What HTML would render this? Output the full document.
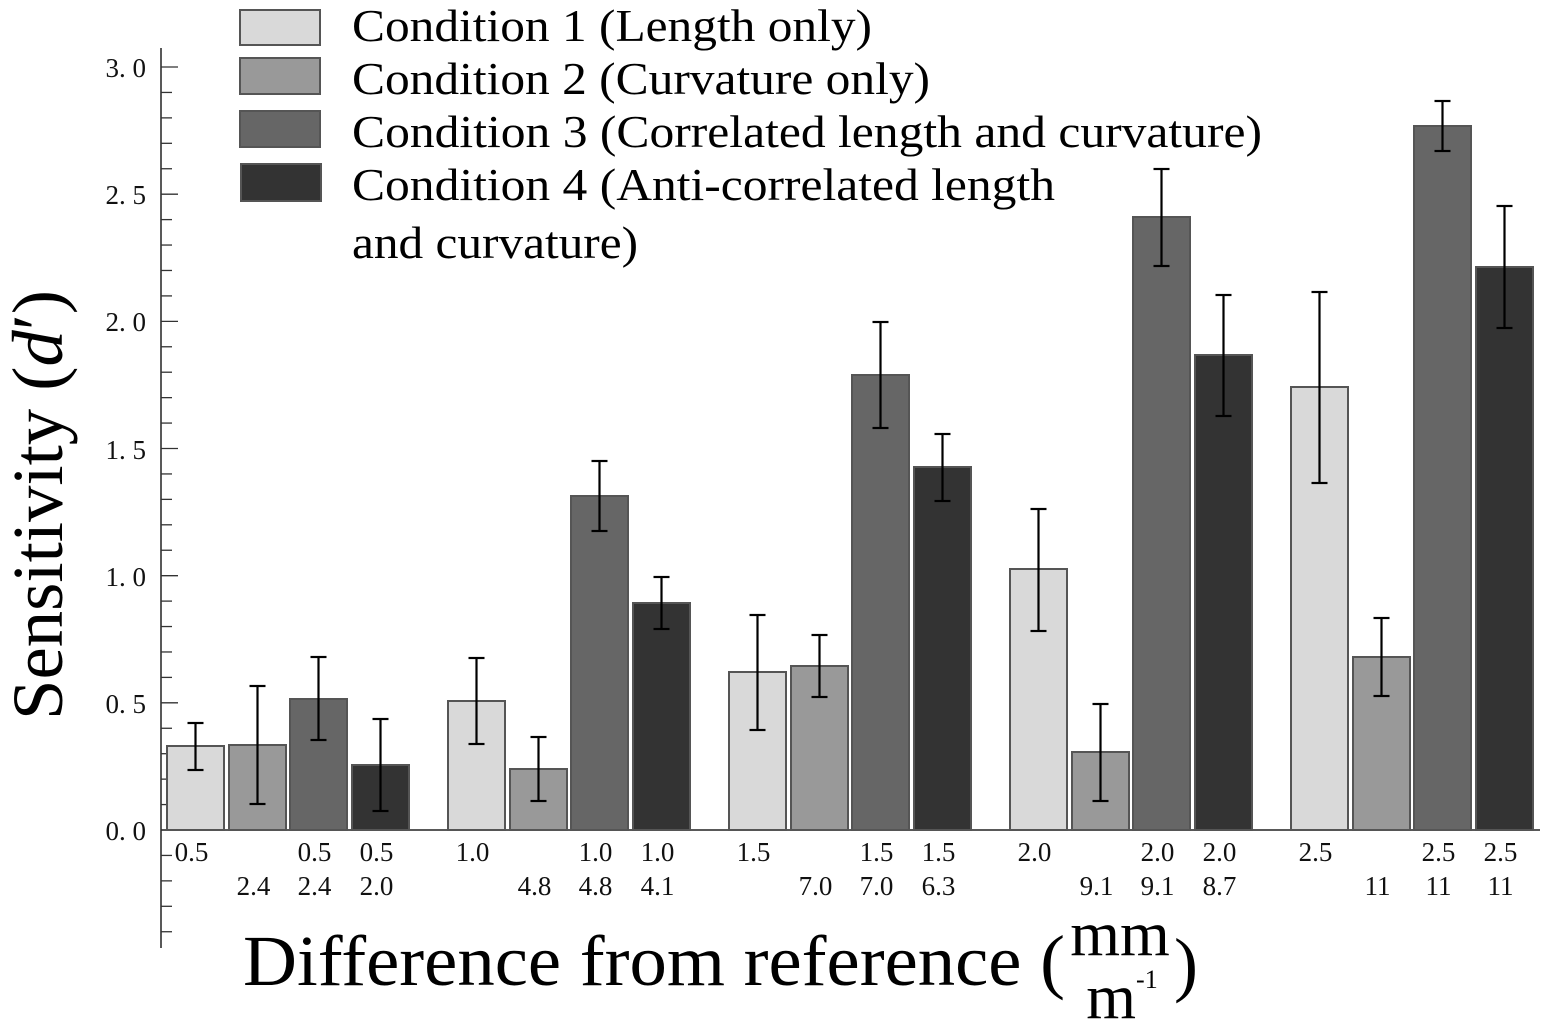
<!DOCTYPE html>
<html><head><meta charset="utf-8"><style>
html,body{margin:0;padding:0;background:#fff;}
svg{display:block;font-family:"Liberation Serif",serif;}
</style></head><body>
<svg width="1542" height="1029" viewBox="0 0 1542 1029" xmlns="http://www.w3.org/2000/svg">
<g stroke="#222" stroke-width="1.5">
<line x1="161" y1="48" x2="161" y2="948"/>
<line x1="161" y1="830" x2="1540" y2="830"/>
</g>
<g stroke="#333" stroke-width="1.3" id="ticks"></g>
<g font-size="27" text-anchor="end" fill="#111">
<text x="146" y="77">3. 0</text>
<text x="146" y="204">2. 5</text>
<text x="146" y="331">2. 0</text>
<text x="146" y="459">1. 5</text>
<text x="146" y="586">1. 0</text>
<text x="146" y="713">0. 5</text>
<text x="146" y="840">0. 0</text>
</g>
<g id="bars" stroke="#555" stroke-width="2"></g>
<g id="errs" stroke="#000" stroke-width="2.2" fill="none"></g>
<g id="labs" font-size="27" text-anchor="middle" fill="#111"></g>
<!-- legend -->
<g stroke="#555" stroke-width="2">
<rect x="240" y="10" width="80" height="35" fill="#d9d9d9"/>
<rect x="240" y="58" width="80" height="36" fill="#999"/>
<rect x="240" y="111" width="80" height="36" fill="#666"/>
<rect x="241" y="164" width="80" height="37" fill="#333"/>
</g>
<g font-size="46" fill="#000" lengthAdjust="spacingAndGlyphs">
<text x="352" y="41" textLength="520" lengthAdjust="spacingAndGlyphs">Condition 1 (Length only)</text>
<text x="352" y="94" textLength="578" lengthAdjust="spacingAndGlyphs">Condition 2 (Curvature only)</text>
<text x="352" y="147" textLength="910" lengthAdjust="spacingAndGlyphs">Condition 3 (Correlated length and curvature)</text>
<text x="352" y="200" textLength="703" lengthAdjust="spacingAndGlyphs">Condition 4 (Anti-correlated length</text>
<text x="352" y="258" textLength="286" lengthAdjust="spacingAndGlyphs">and curvature)</text>
</g>
<text transform="translate(62,505) rotate(-90)" font-size="72" text-anchor="middle" textLength="430" lengthAdjust="spacingAndGlyphs">Sensitivity (<tspan font-style="italic">d</tspan>′)</text>
<text x="243" y="985" font-size="72" textLength="822" lengthAdjust="spacingAndGlyphs">Difference from reference (</text>
<text x="1120" y="955" font-size="64" text-anchor="middle">mm</text>
<text x="1122" y="1018" font-size="64" text-anchor="middle">m<tspan font-size="26" dy="-30">-1</tspan></text>
<text x="1174" y="988" font-size="72">)</text>
<script>
(function(){
var NS="http://www.w3.org/2000/svg";
function el(p,t,a,txt){var e=document.createElementNS(NS,t);for(var k in a)e.setAttribute(k,a[k]);if(txt)e.textContent=txt;document.getElementById(p).appendChild(e);}
for(var i=-4;i<=30;i++){var y=830-i*25.433;var maj=(i%5==0);el("ticks","line",{x1:161,y1:y,x2:maj?178:172,y2:y});}
var cols=["#d9d9d9","#999","#666","#333"];
var gx=[167,448,729,1010,1291];
var off=[0,62,123,185];
var data=[
[[746,723,770],[745,686,804],[699,657,740],[765,719,811]],
[[701,658,744],[769,737,801],[496,461,531],[603,577,629]],
[[672,615,730],[666,635,697],[375,322,428],[467,434,501]],
[[569,509,631],[752,704,801],[217,169,266],[355,295,416]],
[[387,292,483],[657,618,696],[126,101,151],[267,206,328]]];
var l1=["0.5","1.0","1.5","2.0","2.5"],l2=["2.4","4.8","7.0","9.1","11"],l3=["2.0","4.1","6.3","8.7","11"];
for(var g=0;g<5;g++)for(var c=0;c<4;c++){
 var x=gx[g]+off[c],d=data[g][c],cx=x+28.5;
 el("bars","rect",{x:x,y:d[0],width:57,height:830-d[0],fill:cols[c]});
 el("errs","line",{x1:cx,y1:d[1],x2:cx,y2:d[2]});
 el("errs","line",{x1:cx-8,y1:d[1],x2:cx+8,y2:d[1]});
 el("errs","line",{x1:cx-8,y1:d[2],x2:cx+8,y2:d[2]});
 var tx=cx-4;
 if(c==0)el("labs","text",{x:tx,y:861},l1[g]);
 if(c==1)el("labs","text",{x:tx,y:895},l2[g]);
 if(c==2){el("labs","text",{x:tx,y:861},l1[g]);el("labs","text",{x:tx,y:895},l2[g]);}
 if(c==3){el("labs","text",{x:tx,y:861},l1[g]);el("labs","text",{x:tx,y:895},l3[g]);}
}
})();
</script>
</svg>
</body></html>
